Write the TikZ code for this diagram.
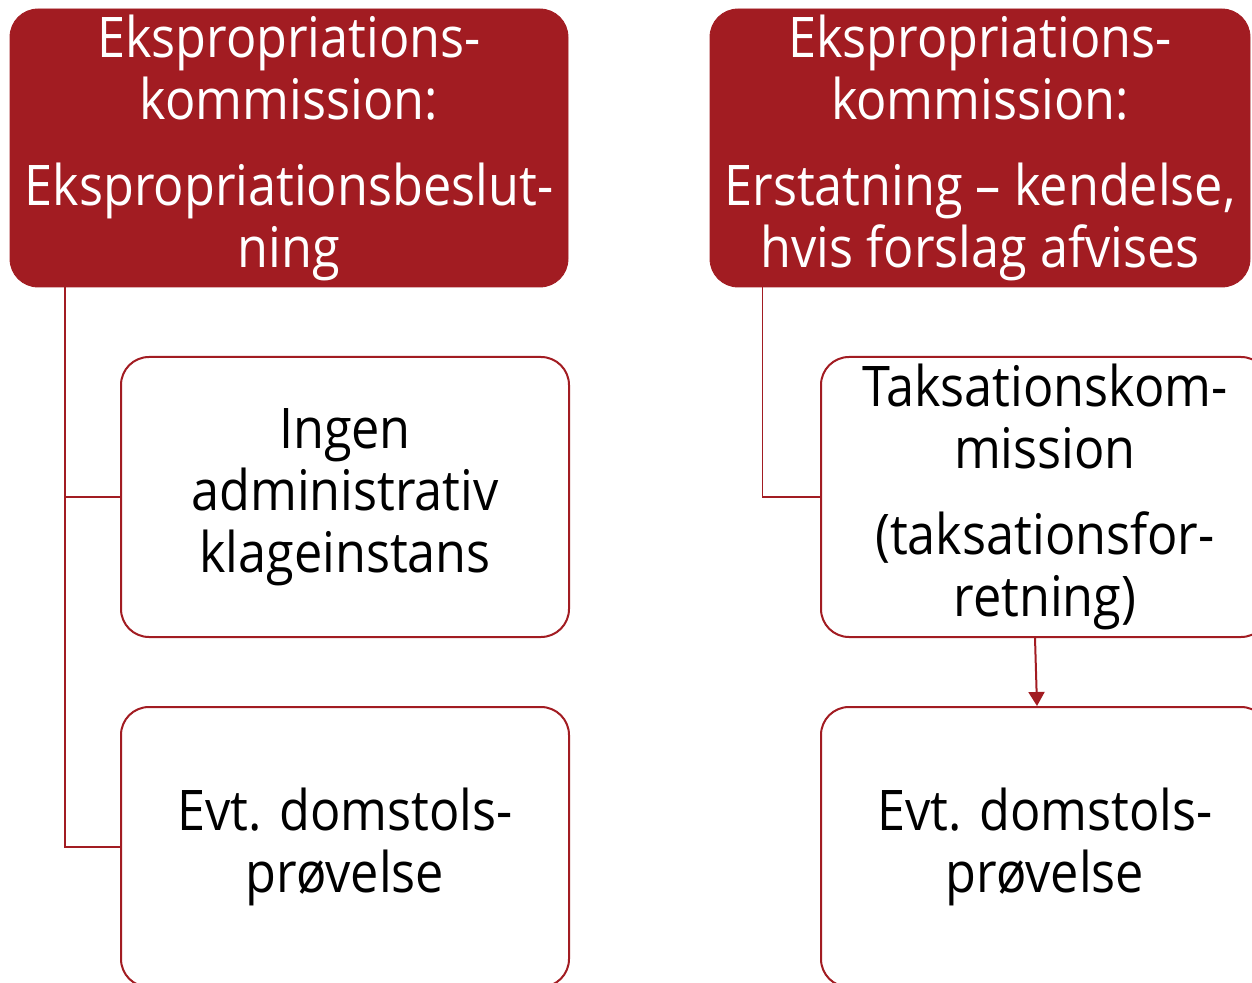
\documentclass[tikz,border=0pt]{standalone}
\usepackage{fontspec}
\setmainfont{Open Sans}[FakeStretch=0.9]
\usetikzlibrary{calc,arrows.meta}
\definecolor{kommred}{HTML}{A21C22}
\tikzset{
  redbox/.style={draw=kommred,fill=kommred,text=white,rounded corners=14pt,align=center,inner sep=3pt,
    font=\fontsize{28}{31}\selectfont},
  whitebox/.style={draw=kommred,line width=1pt,fill=white,text=black,rounded corners=14pt,align=center,
    minimum width=224pt,minimum height=140pt,font=\fontsize{28}{31}\selectfont},
  link/.style={draw=kommred,line width=1pt},
}
\begin{document}
\begin{tikzpicture}[x=0.5pt,y=-0.5pt]
	\useasboundingbox (0,0) rectangle (1252,983);
	
	%left column
	\node[redbox,minimum width=279pt,minimum height=138pt] (ekspA) at (289,148)
	  {Ekspropriations-\\kommission:\\[12pt]Ekspropriationsbeslut-\\ning};
	\node[whitebox] (klage) at (345,497) {Ingen\\administrativ\\klageinstans};
	\node[whitebox] (domA) at (345,847) {Evt. domstols-\\prøvelse};
	
	%right column
	\node[redbox,minimum width=270pt,minimum height=138pt] (ekspB) at (980,148)
	  {Ekspropriations-\\kommission:\\[12pt]Erstatning -- kendelse,\\hvis forslag afvises};
	\node[whitebox] (taks) at (1045,497) {Taksationskom-\\mission\\[12pt](taksationsfor-\\retning)};
	\node[whitebox] (domB) at (1045,847) {Evt. domstols-\\prøvelse};
	
	%connectors
	\draw[link] ($(ekspA.south west)+(55,0)$) |- (klage.west); %to klage
	\draw[link] ($(ekspA.south west)+(55,0)$) |- (domA.west); %to domstol
	\draw[link,line width=0.7pt] ($(ekspB.south west)+(53,0)$) |- (taks.west); %to taks
	\draw[link,-{Triangle[width=8pt,length=7pt]}] ($(taks.south)+(-10,0)$) -- ($(domB.north)+(-8,0)$); %arrow
\end{tikzpicture}
\end{document}
